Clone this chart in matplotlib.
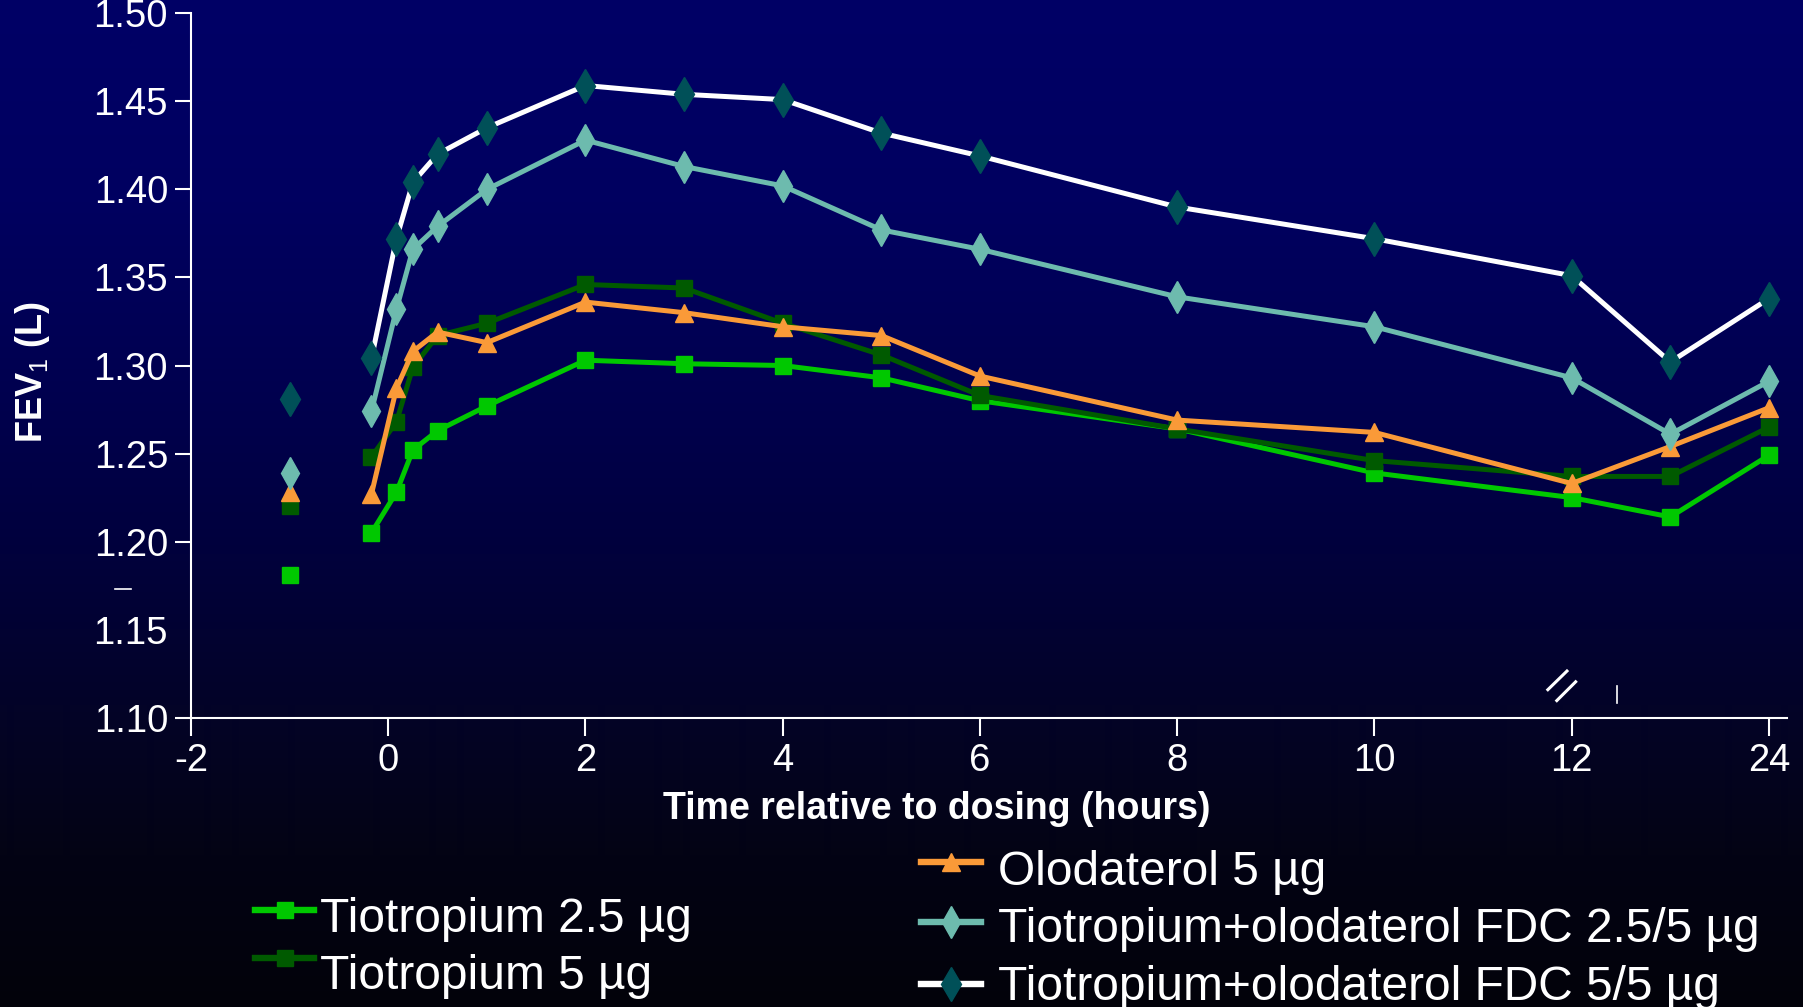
import numpy as np
import matplotlib
matplotlib.use("Agg")
import matplotlib.pyplot as plt
from matplotlib.lines import Line2D

plt.rcParams['font.family'] = ['Liberation Sans', 'DejaVu Sans']
plt.rcParams['mathtext.fontset'] = 'custom'
plt.rcParams['mathtext.rm'] = 'Liberation Sans'
plt.rcParams['mathtext.bf'] = 'Liberation Sans:bold'

# ---- data -------------------------------------------------------------
# Axis positions of the sampling times (first = pre-dose baseline, not joined;
# positions 13 and 14 lie beyond the 12 h axis break, 14 = 24 h)
time_pos = [-1.0, -0.17, 0.083, 0.25, 0.5, 1, 2, 3, 4, 5, 6, 8, 10, 12, 13, 14]

x_tick_pos = [-2, 0, 2, 4, 6, 8, 10, 12, 14]
x_tick_labels = ["-2", "0", "2", "4", "6", "8", "10", "12", "24"]
y_ticks = [1.10, 1.15, 1.20, 1.25, 1.30, 1.35, 1.40, 1.45, 1.50]
y_tick_labels = ["1.10", "1.15", "1.20", "1.25", "1.30", "1.35", "1.40", "1.45", "1.50"]

names = ["Tiotropium 2.5 µg", "Tiotropium 5 µg", "Olodaterol 5 µg",
         "Tiotropium+olodaterol FDC 2.5/5 µg", "Tiotropium+olodaterol FDC 5/5 µg"]

fev_tio25 = [1.181, 1.205, 1.228, 1.252, 1.263, 1.277, 1.303, 1.301, 1.300,
             1.293, 1.280, 1.264, 1.239, 1.225, 1.214, 1.249]
fev_tio5 = [1.220, 1.248, 1.268, 1.299, 1.317, 1.324, 1.346, 1.344, 1.324,
            1.306, 1.283, 1.264, 1.246, 1.237, 1.237, 1.265]
fev_olo5 = [1.228, 1.227, 1.287, 1.308, 1.319, 1.313, 1.336, 1.330, 1.322,
            1.317, 1.294, 1.269, 1.262, 1.233, 1.254, 1.276]
fev_fdc25 = [1.239, 1.274, 1.332, 1.366, 1.379, 1.400, 1.428, 1.413, 1.402,
             1.377, 1.366, 1.339, 1.322, 1.293, 1.261, 1.291]
fev_fdc5 = [1.281, 1.304, 1.372, 1.404, 1.420, 1.435, 1.459, 1.454, 1.451,
            1.432, 1.419, 1.390, 1.372, 1.351, 1.302, 1.338]

series_values = [fev_tio25, fev_tio5, fev_olo5, fev_fdc25, fev_fdc5]

# ---- styles -----------------------------------------------------------
styles = [
    dict(line='#00C800', face='#00C800', marker='s', ms=11.5),
    dict(line='#005A00', face='#005A00', marker='s', ms=12),
    dict(line='#FA9A38', face='#FA9A38', marker='^', ms=12.5),
    dict(line='#6DBBAE', face='#6DBBAE', marker='d', ms=16),
    dict(line='#FFFFFF', face='#005058', marker='d', ms=17.5),
]
LW = 3.6

W, H = 1803, 1007
fig = plt.figure(figsize=(W / 100, H / 100), dpi=100)


def fx(px):
    return px / W


def fy(py):
    return 1 - py / H


# ---- background gradient ---------------------------------------------
bg = fig.add_axes([0, 0, 1, 1], zorder=-10)
stop_pos = [0.0, 0.2, 0.4, 0.55, 0.7, 0.85, 1.0]
stop_rgb = [(0, 0, 102), (0, 0, 96), (0, 0, 78), (1, 1, 60),
            (3, 3, 40), (3, 3, 20), (2, 2, 10)]
yy = np.linspace(0, 1, H)
grad = np.stack([np.interp(yy, stop_pos, [c[i] for c in stop_rgb])
                 for i in range(3)], axis=-1) / 255.0
bg.imshow(grad[:, None, :], aspect='auto', extent=[0, 1, 0, 1],
          origin='upper', interpolation='bilinear')
bg.set_xlim(0, 1)
bg.set_ylim(0, 1)
bg.axis('off')

# ---- main axes --------------------------------------------------------
ax = fig.add_axes([fx(191), fy(717.7), fx(1786.7) - fx(191), fy(13.3) - fy(717.7)])
ax.patch.set_alpha(0)
ax.set_xlim(-2, 14.18)
ax.set_ylim(1.10, 1.50)
for s in ['top', 'right']:
    ax.spines[s].set_visible(False)
for s in ['left', 'bottom']:
    ax.spines[s].set_color('white')
    ax.spines[s].set_linewidth(1.5)

ax.set_xticks(x_tick_pos, x_tick_labels)
ax.set_yticks(y_ticks, y_tick_labels)
ax.tick_params(axis='x', colors='white', length=13, width=1.5, pad=5, labelsize=27.5)
ax.tick_params(axis='y', colors='white', length=11.5, width=1.5, pad=5, labelsize=27.5)
ax.yaxis.get_major_ticks()[1].tick1line.set_visible(False)

for i, (vals, st) in enumerate(zip(series_values, styles)):
    z = 3 + i
    ax.plot(time_pos[1:], vals[1:], color=st['line'], lw=LW, marker=st['marker'],
            ms=st['ms'], mfc=st['face'], mec=st['face'], zorder=z, clip_on=False)
    ax.plot(time_pos[:1], vals[:1], linestyle='none', marker=st['marker'],
            ms=st['ms'], mfc=st['face'], mec=st['face'], zorder=z, clip_on=False)

# axis break marks near 12 h
ax.plot([11.747, 11.963], [1.1153, 1.1271], color='white', lw=2.2,
        solid_capstyle='butt', clip_on=False)
ax.plot([11.838, 12.051], [1.1091, 1.1210], color='white', lw=2.2,
        solid_capstyle='butt', clip_on=False)
ax.plot([12.457, 12.457], [1.1082, 1.1180], color='white', lw=1.2, clip_on=False)
fig.add_artist(Line2D([fx(115), fx(131)], [fy(589), fy(589)],
                      transform=fig.transFigure, color='white', lw=1.2))

# ---- axis titles ------------------------------------------------------
fig.text(fx(937), fy(819), 'Time relative to dosing (hours)', ha='center',
         va='baseline', fontsize=27, fontweight='bold', color='white')
fig.text(fx(32.5), fy(372), r'FEV$_1$ (L)', rotation=90, ha='center',
         va='center', fontsize=26, fontweight='bold', color='white')

# ---- legend -----------------------------------------------------------
# (handle x0, handle x1, handle y, text x, text baseline) in pixels
legend_layout = [
    (255, 314, 910, 320, 932),
    (255, 314, 958, 320, 989),
    (921, 981, 862, 998, 885),
    (921, 981, 922, 998, 942),
    (921, 981, 984, 998, 1000),
]
for name, st, (x0, x1, yh, xt, yb) in zip(names, styles, legend_layout):
    fig.add_artist(Line2D([fx(x0), fx(x1)], [fy(yh), fy(yh)],
                          transform=fig.transFigure, color=st['line'], lw=LW + 1))
    fig.add_artist(Line2D([fx((x0 + x1) / 2)], [fy(yh)], transform=fig.transFigure,
                          linestyle='none', marker=st['marker'], ms=st['ms'],
                          mfc=st['face'], mec=st['face']))
    fig.text(fx(xt), fy(yb), name, ha='left', va='baseline', fontsize=34.5,
             color='white')

fig.savefig('out.png', dpi=100)
